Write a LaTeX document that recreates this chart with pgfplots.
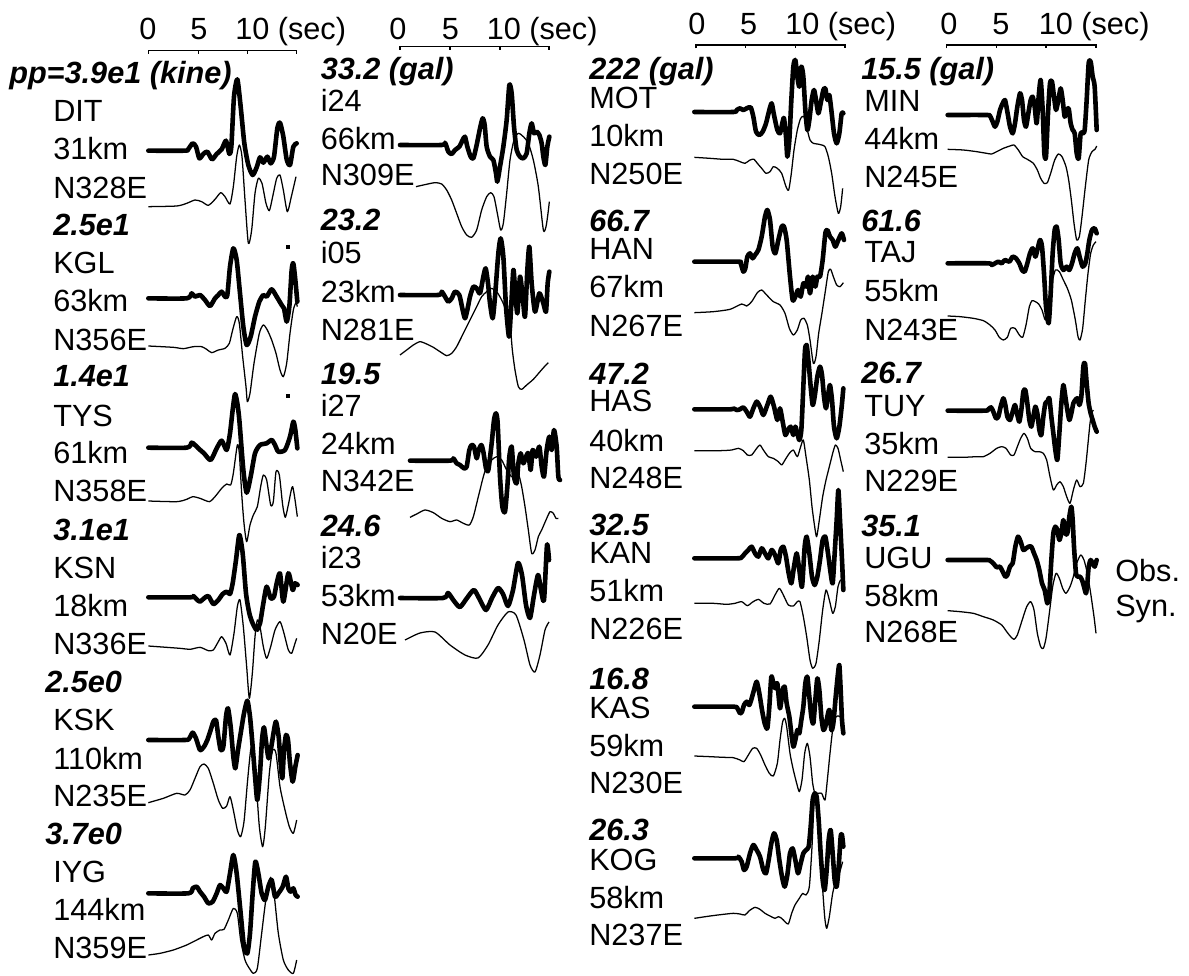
\documentclass[border=0pt]{standalone}
\usepackage{fontspec}
\setmainfont{Liberation Sans}
\usepackage{pgfplots}
\pgfplotsset{compat=1.18}
\pgfplotsset{
 obs/.style={black, line width=3.45pt, line join=round, line cap=round, smooth, tension=0.4, no markers},
 syn/.style={black, line width=0.95pt, line join=round, smooth, tension=0.4, no markers},
 tk/.style={black, line width=0.9pt, no markers},
 fr/.style 2 args={x filter/.expression={x/3+#1}, y filter/.expression={y/3+#2}},
}
\tikzset{
 lab/.style={anchor=base west, inner sep=0pt, font=\fontsize{23}{27}\selectfont},
 amp/.style={anchor=base west, inner sep=0pt, font=\fontsize{23}{27}\selectfont\bfseries\itshape},
 tl/.style={anchor=base, inner sep=0pt, font=\fontsize{23}{27}\selectfont},
}
\newcommand{\T}[3]{\node[lab] at (axis cs:#1,#2) {#3};}
\newcommand{\A}[3]{\node[amp] at (axis cs:#1,#2) {#3};}
\begin{document}
\begin{tikzpicture}
\begin{axis}[width=891.75pt, height=730.5pt, scale only axis, hide axis,
 xmin=0, xmax=1189, ymin=0, ymax=974, y dir=reverse, clip=false]
\path (axis cs:0,0) rectangle (axis cs:1189,974);
% ---------- time scales
\addplot[tk] coordinates {(148.3,54)(148.3,50.7)(296.7,50.7)(296.7,54)};
\addplot[tk] coordinates {(198.3,50.7)(198.3,54)};
\addplot[tk] coordinates {(247.3,50.7)(247.3,54)};
\addplot[tk] coordinates {(400,50)(400,46.7)(549,46.7)(549,50)};
\addplot[tk] coordinates {(450,46.7)(450,50)};
\addplot[tk] coordinates {(500,46.7)(500,50)};
\addplot[tk] coordinates {(696,48.5)(696,45)(845,45)(845,48.5)};
\addplot[tk] coordinates {(745.7,45)(745.7,48.5)};
\addplot[tk] coordinates {(795.7,45)(795.7,48.5)};
\addplot[tk] coordinates {(946.7,48.5)(946.7,45)(1096,45)(1096,48.5)};
\addplot[tk] coordinates {(996.7,45)(996.7,48.5)};
\addplot[tk] coordinates {(1046,45)(1046,48.5)};
\node[tl] at (axis cs:148,40) {0};
\node[tl] at (axis cs:199,40) {5};
\node[lab] at (axis cs:235,40) {10 (sec)};
\node[tl] at (axis cs:398,40) {0};
\node[tl] at (axis cs:450.5,40) {5};
\node[lab] at (axis cs:486.5,40) {10 (sec)};
\node[tl] at (axis cs:697,35) {0};
\node[tl] at (axis cs:748.7,35) {5};
\node[lab] at (axis cs:785,35) {10 (sec)};
\node[tl] at (axis cs:948.8,35) {0};
\node[tl] at (axis cs:1000.8,35) {5};
\node[lab] at (axis cs:1038.5,35) {10 (sec)};
% ---------- column 1
\A{9}{83.3}{pp=3.9e1 (kine)} \T{53}{121.7}{DIT} \T{53}{160}{31km} \T{53}{198.3}{N328E}
\A{53}{236}{2.5e1} \T{53}{274}{KGL} \T{53}{311.7}{63km} \T{53}{350}{N356E}
\A{53}{386.7}{1.4e1} \T{53}{426}{TYS} \T{53}{463.3}{61km} \T{53}{501.7}{N358E}
\A{53}{540}{3.1e1} \T{53}{578.3}{KSN} \T{53}{616}{18km} \T{53}{654}{N336E}
\A{45}{692.7}{2.5e0} \T{53}{730.7}{KSK} \T{53}{769.3}{110km} \T{53}{806.7}{N235E}
\A{45}{844}{3.7e0} \T{53}{882.7}{IYG} \T{53}{920.7}{144km} \T{53}{958.3}{N359E}
% ---------- column 2
\A{320.5}{80}{33.2 (gal)} \T{320.5}{111.7}{i24} \T{320.5}{150}{66km} \T{320.5}{186}{N309E}
\A{320.5}{230.7}{23.2} \T{320.5}{263.3}{i05} \T{320.5}{302.7}{23km} \T{320.5}{340}{N281E}
\A{320.5}{384}{19.5} \T{320.5}{416}{i27} \T{320.5}{454}{24km} \T{320.5}{491.7}{N342E}
\A{320.5}{536.7}{24.6} \T{320.5}{568}{i23} \T{320.5}{606}{53km} \T{320.5}{644}{N20E}
% ---------- column 3
\A{589}{80}{222 (gal)} \T{589}{108.3}{MOT} \T{589}{146.7}{10km} \T{589}{184.3}{N250E}
\A{589}{231.7}{66.7} \T{589}{260}{HAN} \T{589}{297.7}{67km} \T{589}{336}{N267E}
\A{589}{384}{47.2} \T{589}{411.7}{HAS} \T{589}{451}{40km} \T{589}{488.3}{N248E}
\A{589}{535}{32.5} \T{589}{563.3}{KAN} \T{589}{601.7}{51km} \T{589}{639.3}{N226E}
\A{589}{689}{16.8} \T{589}{718}{KAS} \T{589}{756.7}{59km} \T{589}{793.3}{N230E}
\A{589}{840.7}{26.3} \T{589}{870}{KOG} \T{589}{908.3}{58km} \T{589}{945}{N237E}
% ---------- column 4
\A{861}{80}{15.5 (gal)} \T{864}{111.7}{MIN} \T{864}{150}{44km} \T{864}{187.3}{N245E}
\A{861}{231.7}{61.6} \T{864}{262.7}{TAJ} \T{864}{301.7}{55km} \T{864}{340}{N243E}
\A{861}{383.3}{26.7} \T{864}{416}{TUY} \T{864}{454}{35km} \T{864}{491.7}{N229E}
\A{861}{536}{35.1} \T{864}{568.3}{UGU} \T{864}{606}{58km} \T{864}{642.7}{N268E}
\T{1115}{581.7}{Obs.} \T{1115}{616}{Syn.}
% ================= traces, column 1
\addplot[obs, fr={0}{0}] coordinates {(445,452)(555,452)(565,447)(578,430)(588,440)(598,475)(610,462)(622,455)(636,478)(650,462)(665,448)(678,422)(688,462)(694,440)(702,290)(712,238)(722,320)(733,430)(745,495)(758,525)(770,502)(780,472)(790,488)(802,470)(812,490)(822,470)(832,385)(840,368)(850,410)(860,478)(870,495)(880,440)(890,430)};
\addplot[syn, fr={0}{0}] coordinates {(445,620)(530,618)(560,610)(585,600)(605,605)(625,616)(645,598)(662,578)(675,590)(690,612)(700,560)(710,470)(718,435)(726,470)(735,600)(745,730)(755,690)(765,580)(775,535)(786,550)(798,610)(808,632)(818,590)(830,535)(840,525)(850,570)(862,635)(874,590)(888,530)};
\addplot[obs, fr={140}{230}] coordinates {(25,205)(140,205)(155,190)(165,200)(180,195)(195,210)(210,228)(225,205)(235,195)(245,185)(255,200)(262,195)(270,110)(280,55)(290,90)(300,190)(310,290)(320,345)(332,320)(345,260)(358,215)(370,195)(380,200)(395,178)(410,200)(425,225)(432,235)(440,275)(448,230)(455,120)(460,100)(466,150)(472,215)};
\addplot[syn, fr={140}{230}] coordinates {(25,348)(100,352)(130,356)(160,350)(185,350)(200,358)(215,368)(235,360)(255,355)(268,340)(278,300)(290,260)(298,280)(308,380)(318,470)(322,515)(330,490)(342,400)(358,310)(370,285)(382,300)(395,330)(408,370)(420,420)(430,440)(440,400)(450,310)(460,240)(468,218)(472,230)};
\addplot[only marks, mark=square*, mark size=1.1pt, black] coordinates {(288,247)(288,396)};
\addplot[obs, fr={0}{320}] coordinates {(445,383)(560,383)(575,368)(585,375)(595,385)(612,400)(632,420)(650,385)(665,362)(680,390)(690,340)(698,270)(705,222)(712,250)(718,300)(730,450)(740,518)(752,470)(765,400)(780,375)(800,370)(815,360)(825,375)(835,395)(855,390)(870,350)(880,305)(886,330)(892,385)};
\addplot[syn, fr={0}{320}] coordinates {(445,543)(530,545)(560,538)(578,530)(600,535)(628,545)(645,530)(665,505)(680,492)(692,495)(700,460)(712,375)(718,400)(725,520)(732,610)(740,665)(750,615)(760,585)(772,560)(782,500)(790,465)(800,480)(812,555)(820,545)(828,455)(838,465)(848,555)(856,592)(866,550)(878,500)(892,590)};
\addplot[obs, fr={0}{320}] coordinates {(445,832)(570,832)(580,828)(590,838)(600,845)(612,835)(625,828)(640,852)(655,840)(668,822)(680,815)(690,822)(698,790)(708,720)(718,645)(728,700)(738,820)(748,880)(758,910)(770,930)(780,910)(790,850)(800,800)(812,835)(822,830)(830,790)(840,760)(850,845)(865,760)(878,810)(885,790)(893,795)};
\addplot[syn, fr={0}{640}] coordinates {(445,18)(540,25)(570,28)(600,22)(625,32)(640,30)(655,5)(665,-10)(678,10)(690,45)(702,-20)(712,-100)(720,-120)(730,-40)(740,80)(748,175)(757,100)(765,-10)(772,-60)(780,-40)(790,20)(800,55)(812,20)(825,-30)(840,-55)(852,-20)(865,30)(875,40)(885,10)(890,-5)};
\addplot[obs, fr={0}{640}] coordinates {(445,300)(555,300)(568,295)(578,278)(588,295)(600,330)(612,320)(622,300)(632,270)(640,245)(648,240)(655,290)(662,330)(670,320)(678,230)(684,205)(692,260)(700,350)(706,385)(714,330)(722,280)(732,220)(742,182)(750,230)(758,320)(766,420)(772,480)(780,400)(786,300)(792,262)(800,320)(806,355)(814,320)(822,270)(828,245)(836,290)(842,370)(847,415)(852,330)(858,285)(864,300)(870,370)(878,425)(886,380)(893,345)};
\addplot[syn, fr={0}{640}] coordinates {(445,488)(490,475)(530,460)(555,465)(570,450)(585,415)(600,380)(612,372)(625,385)(640,430)(655,480)(668,505)(680,498)(690,470)(700,510)(712,570)(722,590)(732,545)(742,430)(752,330)(760,320)(768,420)(778,560)(788,620)(796,560)(808,400)(818,330)(828,340)(840,440)(855,510)(868,560)(880,580)(890,540)};
\addplot[obs, fr={0}{640}] coordinates {(445,760)(565,760)(578,745)(590,740)(600,755)(612,770)(625,790)(638,785)(650,760)(660,735)(670,745)(680,755)(690,700)(700,645)(710,700)(722,820)(732,920)(742,940)(750,880)(758,760)(766,665)(775,700)(785,760)(795,780)(805,740)(815,720)(825,770)(835,760)(848,740)(858,710)(865,745)(872,755)(880,745)(887,765)(893,770)};
\addplot[syn, fr={0}{640}] coordinates {(445,945)(480,940)(520,930)(560,915)(590,900)(610,890)(625,885)(635,900)(645,880)(660,870)(672,868)(685,840)(700,805)(712,820)(722,900)(735,960)(748,985)(760,1000)(772,985)(785,880)(800,760)(812,712)(822,760)(835,880)(850,960)(865,990)(880,1000)(890,960)};
% ================= column 2
\addplot[obs, fr={310}{0}] coordinates {(270,435)(395,435)(405,428)(415,455)(425,462)(435,450)(448,440)(458,420)(465,410)(472,440)(482,470)(490,475)(500,435)(510,385)(518,355)(524,375)(530,440)(540,470)(550,480)(558,520)(562,545)(570,500)(580,440)(590,360)(598,255)(605,280)(612,380)(620,450)(630,470)(640,475)(650,460)(658,400)(665,370)(672,400)(680,395)(688,405)(695,430)(700,470)(706,495)(712,440)(718,410)};
\addplot[syn, fr={310}{0}] coordinates {(318,560)(340,555)(375,548)(395,552)(410,570)(425,600)(440,640)(455,680)(470,705)(485,712)(500,690)(515,630)(530,590)(542,578)(552,590)(562,640)(572,690)(580,670)(590,580)(600,480)(612,420)(625,400)(640,410)(655,430)(670,480)(685,560)(700,690)(708,680)(714,640)(718,605)};
\addplot[obs, fr={310}{290}] coordinates {(270,15)(385,15)(395,5)(405,20)(415,35)(425,25)(435,5)(448,15)(458,60)(465,85)(472,60)(480,20)(490,-10)(500,-5)(510,10)(520,-40)(527,-65)(534,-20)(540,40)(548,85)(555,20)(565,-110)(572,-155)(580,-100)(588,50)(597,140)(603,60)(610,-60)(615,-5)(622,70)(630,-40)(638,20)(645,80)(652,-60)(658,-130)(665,-20)(675,65)(688,10)(700,40)(708,65)(713,-20)(718,-55)};
\addplot[syn, fr={310}{290}] coordinates {(270,195)(290,180)(310,165)(330,155)(350,162)(370,172)(390,185)(410,197)(425,190)(440,170)(460,130)(480,90)(500,50)(515,20)(530,5)(545,-5)(560,5)(575,30)(590,65)(600,100)(607,180)(615,240)(625,290)(635,298)(650,285)(670,268)(690,245)(705,228)(715,218)};
\addplot[obs, fr={310}{290}] coordinates {(300,512)(420,512)(430,505)(440,520)(450,525)(462,535)(470,530)(478,480)(485,465)(492,470)(500,505)(506,480)(514,465)(520,485)(528,535)(535,540)(545,460)(552,390)(558,370)(563,400)(570,560)(577,650)(585,665)(592,590)(598,500)(605,470)(612,560)(620,580)(625,520)(632,490)(640,520)(648,500)(655,490)(662,540)(668,480)(678,500)(688,470)(695,530)(702,560)(710,480)(718,440)(725,480)(732,420)(740,470)(745,560)(750,570)};
\addplot[syn, fr={310}{290}] coordinates {(300,682)(320,672)(345,660)(370,668)(395,685)(420,695)(440,690)(460,700)(478,705)(490,680)(505,620)(520,560)(530,530)(545,510)(560,500)(575,510)(590,540)(605,560)(615,555)(625,550)(635,590)(645,650)(655,720)(665,790)(675,780)(685,740)(695,720)(708,690)(720,665)(730,670)(738,685)(745,685)};
\addplot[obs] coordinates {(400,598)(443,598)(448,593)(454,601)(460,607)(467,598)(474,590)(480,600)(486,610)(492,598)(498,588)(503,594)(508,606)(513,590)(518,563)(522,575)(526,605)(530,618)(534,595)(538,575)(541,590)(544,600)(547,545)(549,560)};
\addplot[syn] coordinates {(405,640)(420,633)(435,632)(450,645)(465,655)(478,658)(488,645)(498,625)(508,612)(516,615)(524,640)(530,665)(535,672)(540,655)(545,630)(549,622)};
% ================= column 3
\addplot[obs, fr={560}{0}] coordinates {(403,336)(520,336)(530,330)(540,325)(550,330)(560,325)(572,322)(580,350)(588,395)(598,405)(608,395)(618,370)(628,330)(635,310)(642,345)(652,390)(660,400)(668,365)(672,355)(678,410)(682,470)(688,420)(694,300)(700,200)(706,180)(712,230)(718,260)(724,200)(730,230)(736,330)(742,390)(748,360)(755,300)(762,270)(768,300)(775,340)(782,310)(790,270)(796,265)(802,300)(808,285)(814,330)(822,400)(830,430)(838,400)(845,340)(850,340)};
\addplot[syn, fr={560}{0}] coordinates {(403,472)(450,475)(490,478)(520,478)(540,485)(555,490)(570,480)(582,478)(592,490)(605,505)(618,520)(630,515)(640,500)(652,505)(665,520)(678,560)(686,570)(694,520)(702,450)(712,390)(722,355)(732,350)(742,390)(750,420)(760,430)(772,432)(785,435)(795,440)(805,470)(815,520)(825,590)(835,640)(842,620)(848,565)};
\addplot[obs, fr={560}{0}] coordinates {(403,785)(535,785)(542,790)(550,815)(556,805)(562,770)(570,760)(578,775)(585,765)(595,750)(605,710)(615,650)(622,630)(630,660)(638,740)(646,760)(655,720)(665,680)(672,680)(680,720)(690,830)(698,900)(706,890)(714,870)(722,890)(730,850)(738,860)(744,830)(750,880)(758,830)(766,860)(772,830)(780,830)(788,780)(796,700)(802,690)(810,710)(818,720)(826,740)(835,720)(845,700)(852,720)};
\addplot[syn, fr={560}{0}] coordinates {(403,938)(460,935)(510,928)(545,912)(560,918)(575,905)(592,878)(605,870)(620,885)(640,905)(660,915)(675,940)(688,985)(700,1005)(712,990)(722,960)(732,955)(742,975)(750,1020)(760,1090)(768,1070)(776,1000)(785,945)(795,880)(805,815)(812,808)(820,830)(830,855)(840,860)(850,848)};
\addplot[obs, fr={560}{320}] coordinates {(403,268)(510,268)(520,265)(530,270)(540,268)(550,262)(560,275)(570,290)(580,265)(590,245)(600,260)(610,285)(622,255)(632,230)(642,260)(652,300)(660,265)(668,305)(676,345)(684,330)(692,320)(700,345)(706,320)(712,340)(718,360)(724,330)(730,200)(735,90)(740,75)(746,130)(752,200)(758,255)(764,230)(772,170)(780,140)(786,165)(792,230)(798,265)(805,220)(810,195)(816,240)(822,320)(830,355)(838,320)(845,260)(850,205)};
\addplot[syn, fr={560}{320}] coordinates {(403,392)(480,392)(515,390)(535,385)(550,392)(562,405)(575,405)(590,385)(600,375)(610,390)(625,410)(640,415)(655,425)(665,435)(675,420)(688,400)(700,390)(712,410)(722,380)(730,360)(738,410)(748,480)(756,560)(764,620)(770,650)(778,600)(788,530)(798,480)(808,440)(818,400)(826,375)(834,385)(842,420)(850,455)};
\addplot[obs, fr={560}{320}] coordinates {(403,715)(530,715)(545,712)(555,700)(565,690)(575,680)(585,700)(595,710)(605,685)(615,700)(625,715)(635,690)(645,705)(655,730)(662,690)(670,680)(678,710)(686,760)(694,790)(702,740)(710,700)(718,750)(726,800)(734,680)(740,650)(748,700)(756,770)(764,795)(772,770)(780,720)(788,660)(796,650)(804,700)(812,760)(818,790)(824,700)(830,600)(835,510)(840,600)(846,720)(850,810)};
\addplot[syn, fr={560}{320}] coordinates {(403,850)(460,850)(500,853)(525,850)(545,845)(562,857)(578,846)(595,838)(612,850)(630,852)(645,825)(658,805)(670,825)(685,855)(700,858)(712,845)(720,845)(730,890)(740,950)(750,1020)(758,1045)(768,1030)(778,960)(788,870)(798,810)(808,840)(818,880)(826,860)(834,800)(842,780)(850,790)};
\addplot[obs, fr={560}{640}] coordinates {(403,200)(520,200)(532,205)(540,220)(546,215)(552,195)(560,185)(568,195)(575,175)(582,150)(590,125)(598,160)(606,210)(614,250)(622,265)(628,200)(634,110)(640,130)(646,145)(652,130)(660,205)(668,150)(674,140)(680,190)(688,230)(694,280)(700,320)(706,300)(712,270)(718,280)(724,240)(730,200)(736,130)(742,110)(748,170)(754,230)(760,250)(766,180)(772,115)(778,150)(784,230)(790,270)(796,260)(802,230)(808,210)(814,270)(820,250)(828,160)(834,100)(838,75)(842,150)(846,240)(850,280)};
\addplot[syn, fr={560}{640}] coordinates {(403,348)(450,350)(490,352)(520,353)(540,360)(552,365)(565,345)(578,325)(590,325)(602,345)(615,375)(628,400)(640,408)(652,370)(660,300)(668,245)(674,235)(680,260)(690,340)(700,390)(710,430)(718,455)(726,420)(734,340)(742,310)(750,350)(758,430)(765,460)(775,460)(785,460)(795,480)(802,420)(810,340)(818,270)(828,230)(840,230)(850,250)};
\addplot[obs, fr={560}{640}] coordinates {(403,655)(525,655)(535,650)(545,665)(552,690)(560,680)(570,640)(580,615)(590,630)(600,650)(610,690)(618,700)(626,660)(634,610)(642,580)(650,600)(658,660)(666,710)(674,740)(682,705)(690,640)(698,625)(706,660)(714,700)(722,670)(730,640)(738,630)(746,620)(752,560)(758,480)(764,460)(770,470)(776,540)(782,640)(788,720)(794,750)(800,690)(806,600)(812,570)(818,640)(824,720)(830,740)(836,680)(842,590)(846,585)(850,620)};
\addplot[syn, fr={560}{640}] coordinates {(403,835)(450,828)(490,823)(520,820)(540,822)(555,825)(568,812)(585,802)(600,808)(615,820)(630,828)(645,835)(655,830)(665,835)(675,845)(685,852)(695,820)(705,795)(718,775)(728,760)(738,765)(748,740)(756,620)(762,490)(766,460)(772,520)(778,620)(786,720)(794,830)(800,865)(808,830)(818,760)(828,720)(838,700)(848,665)};
% ================= column 4
\addplot[obs, fr={850}{0}] coordinates {(293,345)(410,345)(420,348)(428,365)(435,380)(442,365)(450,330)(458,310)(465,300)(472,335)(480,380)(488,400)(495,370)(502,320)(510,280)(516,300)(522,360)(528,380)(535,340)(542,300)(548,290)(554,320)(560,370)(566,290)(572,240)(578,330)(583,460)(588,470)(594,340)(600,250)(606,245)(612,290)(618,330)(625,300)(632,265)(638,300)(644,350)(650,330)(656,325)(662,370)(668,390)(674,400)(680,460)(686,475)(692,400)(698,400)(704,390)(710,300)(716,190)(722,185)(728,230)(734,260)(740,390)};
\addplot[syn, fr={850}{0}] coordinates {(293,448)(340,450)(380,455)(410,460)(425,462)(440,455)(460,445)(480,438)(492,435)(505,450)(518,470)(532,478)(550,490)(562,510)(572,535)(582,550)(592,548)(602,520)(614,480)(625,462)(636,470)(648,500)(656,540)(664,600)(672,670)(680,720)(688,710)(696,650)(706,560)(716,480)(726,455)(735,448)(740,438)};
\addplot[obs, fr={850}{0}] coordinates {(293,790)(415,790)(425,795)(435,790)(445,785)(455,790)(465,780)(478,785)(488,770)(498,775)(508,790)(516,810)(524,815)(532,790)(540,760)(548,745)(556,770)(562,750)(570,720)(576,740)(582,820)(588,920)(596,970)(602,880)(608,760)(614,690)(620,680)(626,720)(632,790)(640,810)(650,800)(658,810)(666,790)(674,760)(682,745)(690,775)(698,800)(706,790)(712,760)(718,720)(726,690)(734,685)(740,700)};
\addplot[syn, fr={850}{0}] coordinates {(293,948)(330,950)(370,955)(400,962)(420,975)(435,990)(448,1012)(460,1020)(472,1012)(482,985)(495,985)(508,1005)(518,1012)(528,975)(538,920)(546,902)(556,905)(566,912)(576,930)(586,960)(596,930)(606,850)(616,810)(628,815)(640,840)(652,865)(664,900)(676,960)(684,1010)(690,1020)(698,985)(706,900)(714,820)(722,760)(730,735)(738,725)};
\addplot[obs, fr={850}{320}] coordinates {(293,272)(405,272)(415,268)(423,262)(430,275)(438,295)(445,290)(452,260)(460,235)(466,255)(472,290)(480,300)(488,275)(495,255)(502,285)(508,305)(514,270)(520,215)(526,210)(532,250)(538,300)(544,320)(550,290)(556,260)(562,280)(568,330)(574,345)(580,290)(586,250)(592,245)(598,235)(604,290)(610,340)(616,390)(622,420)(628,340)(634,250)(640,195)(646,230)(652,270)(658,300)(664,280)(670,250)(676,240)(682,235)(688,255)(694,230)(700,140)(705,130)(710,190)(716,250)(722,280)(728,300)(734,320)(740,335)};
\addplot[syn, fr={850}{320}] coordinates {(293,412)(340,412)(380,410)(400,410)(420,400)(440,385)(455,380)(468,385)(482,405)(492,405)(502,380)(512,355)(522,340)(532,355)(542,385)(555,395)(568,395)(580,400)(590,420)(600,470)(610,510)(620,495)(630,485)(640,500)(650,530)(660,550)(670,510)(680,480)(690,500)(700,490)(708,430)(715,360)(720,310)(725,280)(730,270)};
\addplot[obs, fr={850}{320}] coordinates {(293,720)(410,720)(420,722)(430,730)(440,742)(450,740)(458,755)(466,770)(472,765)(480,740)(488,730)(496,680)(504,650)(512,665)(520,690)(528,685)(536,680)(544,680)(552,700)(560,720)(568,750)(576,790)(584,810)(592,850)(598,820)(604,720)(610,640)(616,620)(622,630)(628,660)(634,640)(640,600)(646,640)(652,640)(658,590)(664,560)(668,600)(672,680)(678,760)(684,770)(690,770)(696,780)(702,800)(708,820)(712,790)(716,740)(722,720)(728,730)(734,740)(740,720)};
\addplot[syn, fr={850}{320}] coordinates {(293,872)(330,875)(370,880)(400,890)(430,900)(455,915)(470,935)(482,950)(492,958)(502,945)(515,905)(530,860)(542,845)(552,870)(562,940)(572,980)(580,985)(588,955)(598,880)(608,800)(618,760)(628,775)(638,805)(648,820)(660,800)(670,770)(680,730)(692,705)(702,720)(712,760)(722,820)(732,890)(738,940)};
\end{axis}
\end{tikzpicture}
\end{document}
